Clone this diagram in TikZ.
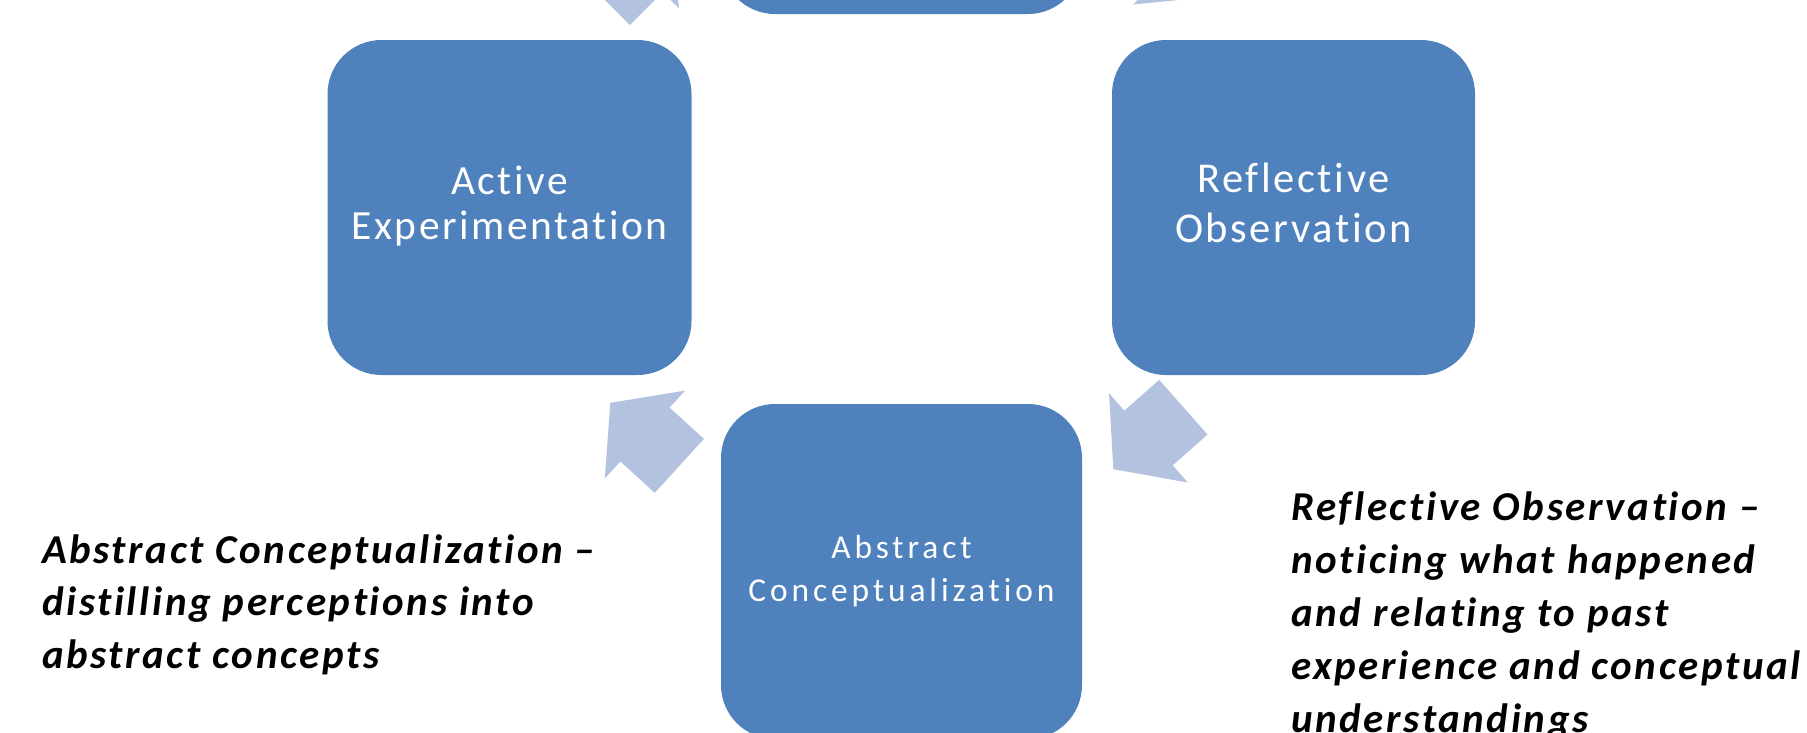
\documentclass[tikz,border=0pt]{standalone}
\usepackage{fontspec}
\setmainfont[Ligatures={TeX,NoCommon}]{Carlito}
\newfontfamily\boxfontA[LetterSpace=6.2,Ligatures={TeX,NoCommon}]{Carlito}
\newfontfamily\boxfontB[LetterSpace=11.7,Ligatures={TeX,NoCommon}]{Carlito}
\newfontfamily\notefont[LetterSpace=6.4,Ligatures={TeX,NoCommon}]{Carlito}
\definecolor{boxblue}{HTML}{4F81BD}
\definecolor{arrowblue}{HTML}{B3C2DE}
\tikzset{
  stage/.style={fill=boxblue, rounded corners=54pt, minimum width=361pt,
    minimum height=335pt, inner sep=0pt, text=white, align=center},
  bigstage/.style={stage, font=\boxfontA\fontsize{41.5}{45}\selectfont},
  widestage/.style={stage, font=\boxfontA\fontsize{42.5}{50}\selectfont},
  smallstage/.style={stage, font=\boxfontB\fontsize{33.4}{43}\selectfont},
  note/.style={anchor=north west, inner sep=0pt, align=left, text=black,
    font=\notefont\fontsize{41}{52.5}\selectfont\bfseries\itshape},
  cyclearrow/.pic={\fill[arrowblue] (-46.5,-36.5) -- (0,-36.5) -- (0,-59.5)
    -- (47,0) -- (0,59.5) -- (0,36.5) -- (-46.5,36.5) -- cycle;}
}
\begin{document}
\begin{tikzpicture}[x=1pt,y=-1pt]
\useasboundingbox (0,0) rectangle (1807,732);
\clip (0,0) rectangle (1807,732);
% stages
\node[stage] (ce) at (901.5,-153.5) {};
\node[bigstage, minimum width=364pt] (ae) at (509.5,207.5) {\strut Active\\\strut Experimentation};
\node[widestage, minimum width=363pt] (ro) at (1293.5,207.5) {\strut Reflective\\\strut Observation};
\node[smallstage] (ac) at (901.5,571.5) {\strut Abstract\\\strut Conceptualization};
% cycle arrows
\pic[rotate=-46] at (1175.8,-36.8) {cyclearrow};
\pic[rotate=221.5] at (1148.5,438) {cyclearrow};
\pic[rotate=137.6] at (645,434.5) {cyclearrow};
\pic[rotate=45] at (637,-33.7) {cyclearrow};
% notes
\node[note] (acnote) at (42,526.25) {\strut Abstract Conceptualization –\\\strut distilling perceptions into\\\strut abstract concepts};
\node[note, font=\notefont\fontsize{41}{53}\selectfont\bfseries\itshape] (ronote) at (1291,482.9) {\strut Reflective Observation –\\\strut noticing what happened\\\strut and relating to past\\\strut experience and conceptual\\\strut understandings};
\end{tikzpicture}
\end{document}
